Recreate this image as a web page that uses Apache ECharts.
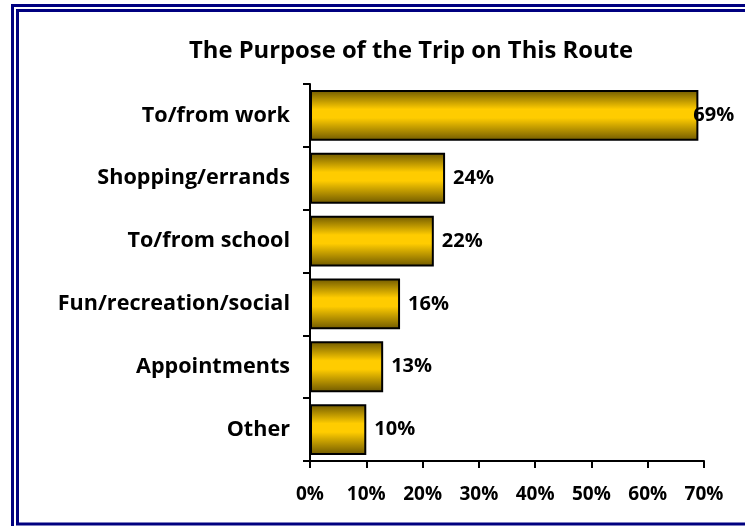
<!DOCTYPE html>
<html>
<head>
<meta charset="utf-8">
<script src="https://cdn.jsdelivr.net/npm/echarts@6/dist/echarts.min.js"></script>
<style>
  html, body { margin: 0; padding: 0; background: #ffffff; }
  #chart { width: 745px; height: 526px; }
</style>
</head>
<body>
<div id="chart"></div>
<script>
// Trip purpose categories and their shares (percent)
const categories = ['To/from work', 'Shopping/errands', 'To/from school', 'Fun/recreation/social', 'Appointments', 'Other'];
const shares = [69, 24, 22, 16, 13, 10];
const tickValues = [0, 10, 20, 30, 40, 50, 60, 70];

const FONT = '"Open Sans"';
const barFill = {
  type: 'linear', x: 0, y: 0, x2: 0, y2: 1,
  colorStops: [
    { offset: 0, color: '#6e5800' },
    { offset: 0.38, color: '#ffcc00' },
    { offset: 0.55, color: '#ffcc00' },
    { offset: 1, color: '#6e5800' }
  ]
};

const chart = echarts.init(document.getElementById('chart'), null, { renderer: 'canvas' });

const seriesData = shares.map(function (v) {
  const item = { value: v };
  // the widest bar has no room for its label beyond the plot edge
  if (v === Math.max.apply(null, shares)) {
    item.label = { offset: [-13, 0] };
  }
  return item;
});

chart.setOption({
  backgroundColor: '#ffffff',
  animation: false,
  title: {
    text: 'The Purpose of the Trip on This Route',
    left: 406,
    textAlign: 'center',
    top: 34,
    textStyle: { fontFamily: FONT, fontWeight: 'bold', fontSize: 23.8, color: '#000000' }
  },
  grid: { left: 310, right: 41, top: 84, bottom: 65, containLabel: false },
  xAxis: {
    type: 'value',
    min: tickValues[0],
    max: tickValues[tickValues.length - 1],
    interval: 10,
    axisLine: { show: true, lineStyle: { color: '#000000', width: 2 } },
    axisTick: { show: true, length: 7, lineStyle: { color: '#000000', width: 2 } },
    splitLine: { show: false },
    axisLabel: {
      formatter: '{value}%',
      margin: 24,
      fontFamily: FONT, fontWeight: 'bold', fontSize: 19, color: '#000000'
    }
  },
  yAxis: {
    type: 'category',
    data: categories,
    inverse: true,
    axisLine: { show: true, lineStyle: { color: '#000000', width: 2 } },
    axisTick: { show: true, length: 7, lineStyle: { color: '#000000', width: 2 } },
    axisLabel: {
      margin: 20,
      fontFamily: FONT, fontWeight: 'bold', fontSize: 21.6, color: '#000000'
    }
  },
  series: [{
    type: 'bar',
    data: seriesData,
    barCategoryGap: '19%',
    itemStyle: { color: barFill, borderColor: '#000000', borderWidth: 2 },
    label: {
      show: true,
      position: 'right',
      distance: 8,
      formatter: '{c}%',
      fontFamily: FONT, fontWeight: 'bold', fontSize: 20, color: '#000000'
    }
  }],
  graphic: [
    // double navy frame around the chart
    { type: 'rect', shape: { x: 12.5, y: 5.5, width: 800, height: 600 },
      style: { fill: 'none', stroke: '#000080', lineWidth: 3 }, z: 100 },
    { type: 'rect', shape: { x: 17.5, y: 10.5, width: 800, height: 513.5 },
      style: { fill: 'none', stroke: '#000080', lineWidth: 3 }, z: 100 }
  ]
});
</script>
</body>
</html>
